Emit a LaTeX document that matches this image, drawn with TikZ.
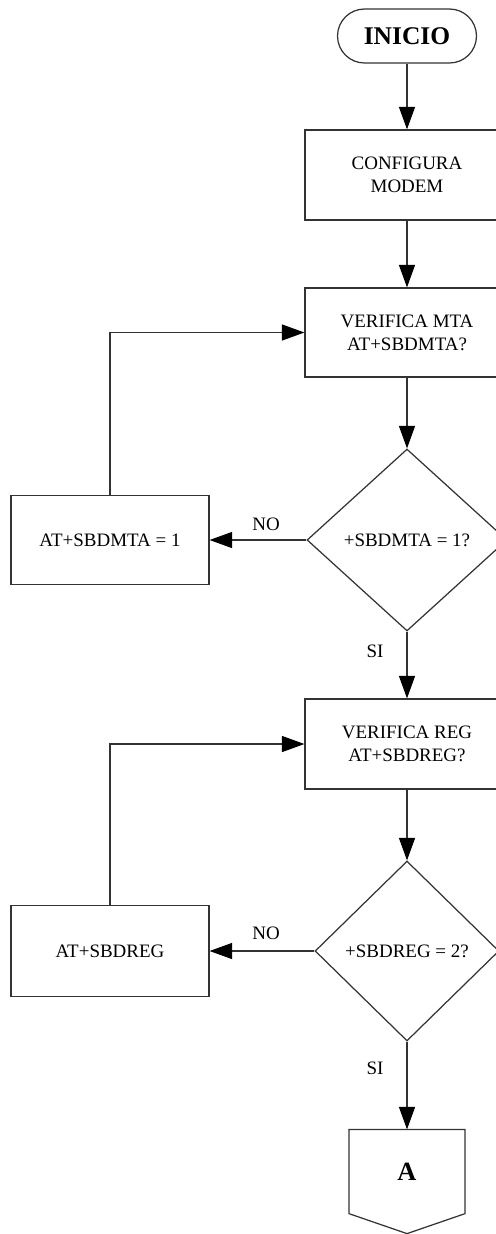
\documentclass[tikz,border=0pt]{standalone}
\usepackage{fontspec}
\setmainfont{Liberation Serif}
\usetikzlibrary{arrows.meta,shapes.geometric}
\begin{document}
\begin{tikzpicture}[x=0.02cm,y=-0.02cm,
	line width=0.7pt,draw=black!80,
	font=\fontsize{10.8}{13}\selectfont,
	flecha/.style={-{Triangle[length=0.45cm,width=0.32cm,black]}},
	caja/.style={draw,rectangle,align=center,inner sep=0pt},
	decision/.style={draw,diamond,inner sep=0pt,align=center},
	etiqueta/.style={inner sep=0pt}]
	\clip (0,0) rectangle (496,1234);
	\node[draw,rectangle,rounded corners=0.54cm,minimum width=2.78cm,minimum height=1.08cm,font=\fontsize{14.5}{17}\selectfont\bfseries] (inicio) at (407,36) {INICIO};
	\node[caja,minimum width=4.08cm,minimum height=1.8cm] (config) at (407,175) {CONFIGURA\\MODEM};
	\node[caja,minimum width=4.08cm,minimum height=1.78cm] (vermta) at (407,332.5) {VERIFICA MTA\\AT+SBDMTA?};
	\node[decision,minimum width=4cm,minimum height=3.64cm] (decmta) at (407,540) {+SBDMTA = 1?};
	\node[caja,minimum width=3.96cm,minimum height=1.78cm] (setmta) at (110,540) {AT+SBDMTA = 1};
	\node[caja,minimum width=4.08cm,minimum height=1.8cm] (verreg) at (407,744) {VERIFICA REG\\AT+SBDREG?};
	\node[decision,minimum width=3.68cm,minimum height=3.6cm] (decreg) at (407,951) {+SBDREG = 2?};
	\node[caja,minimum width=3.96cm,minimum height=1.82cm] (setreg) at (110,951) {AT+SBDREG};
	\node[rectangle,inner sep=0pt,minimum width=2.3cm,minimum height=1.66cm,font=\fontsize{15}{18}\selectfont\bfseries] (conA) at (407,1171.5) {A};
	\draw (conA.north west) -- (conA.north east) -- (conA.south east) -- ([yshift=-0.4cm]conA.south) -- (conA.south west) -- cycle;
	\draw[flecha] (inicio) -- (config);
	\draw[flecha] (config) -- (vermta);
	\draw[flecha] (vermta) -- (decmta);
	\draw[flecha] (decmta.west) -- (setmta.east);
	\draw[flecha] (setmta.north) |- (vermta.west);
	\draw[flecha] (decmta.south) -- (verreg.north);
	\draw[flecha] (verreg) -- (decreg);
	\draw[flecha] (decreg.west) -- (setreg.east);
	\draw[flecha] (setreg.north) |- (verreg.west);
	\draw[flecha] (decreg.south) -- (conA.north);
	\node[etiqueta] (nomta) at (266,524) {NO};
	\node[etiqueta] (simta) at (375,651) {SI};
	\node[etiqueta] (noreg) at (266,933) {NO};
	\node[etiqueta] (sireg) at (375,1068) {SI};
\end{tikzpicture}
\end{document}
